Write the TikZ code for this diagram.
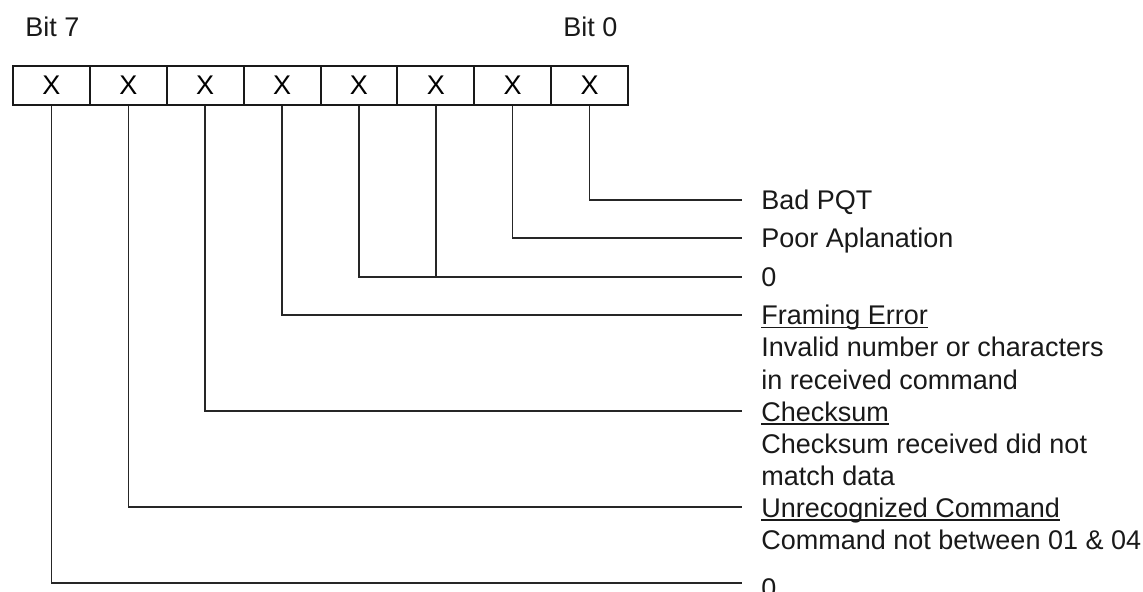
\documentclass[tikz,border=0pt]{standalone}
\usepackage{fontspec}
\setmainfont{Liberation Sans}
\begin{document}
\begin{tikzpicture}[x=0.5pt,y=-0.5pt,
  txt/.style={inner sep=0pt,anchor=base west,font=\fontsize{13.5pt}{16pt}\selectfont,text=black!90},
  cell/.style={draw=black!90,line width=1pt,minimum width=38.44pt,minimum height=19.5pt,inner sep=0pt,anchor=north west,font=\fontsize{13.5pt}{16pt}\selectfont},
  wire/.style={draw=black!85,line width=0.75pt},
  uline/.style={draw=black!90,line width=0.7pt}]
\useasboundingbox (0,0) rectangle (1143,592);
% bit labels
\node[txt] (bit7) at (25,37) {Bit 7};
\node[txt] (bit0) at (563,37) {Bit 0};
% register cells
\foreach \i/\n in {0/7,1/6,2/5,3/4,4/3,5/2,6/1,7/0}{
  \node[cell] (b\n) at ({12+76.875*\i},65) {X};
}
% line end coordinates
\coordinate (e0) at (742,200);
\coordinate (e1) at (742,238);
\coordinate (e2) at (742,277);
\coordinate (e4) at (742,315);
\coordinate (e5) at (742,411);
\coordinate (e6) at (742,507);
\coordinate (e7) at (742,583);
% connectors
\draw[wire] (b0.south) |- (e0);
\draw[wire] (b1.south) |- (e1);
\draw[wire] (b3.south) |- (e2);
\draw[wire] (b2.south) -- (b2.south |- e2);
\draw[wire] (b4.south) |- (e4);
\draw[wire] (b5.south) |- (e5);
\draw[wire] (b6.south) |- (e6);
\draw[wire] (b7.south) |- (e7);
% labels
\node[txt] (l0) at (761,210) {Bad PQT};
\node[txt] (l1) at (761,248) {Poor Aplanation};
\node[txt] (l2) at (761,287) {0};
\node[txt] (l4) at (761,325) {Framing Error};
\node[txt] (l4a) at (761,357) {Invalid number or characters};
\node[txt] (l4b) at (761,389) {in received command};
\node[txt] (l5) at (761,421) {Checksum};
\node[txt] (l5a) at (761,453) {Checksum received did not};
\node[txt] (l5b) at (761,485) {match data};
\node[txt] (l6) at (761,517) {Unrecognized Command};
\node[txt] (l6a) at (761,549) {Command not between 01 \& 04};
\node[txt] (l7) at (761,597) {0};
% underlines
\foreach \u in {l4,l5,l6}{
  \draw[uline] ([yshift=-1.4pt]\u.base west) -- ([yshift=-1.4pt]\u.base east);
}
\end{tikzpicture}
\end{document}
